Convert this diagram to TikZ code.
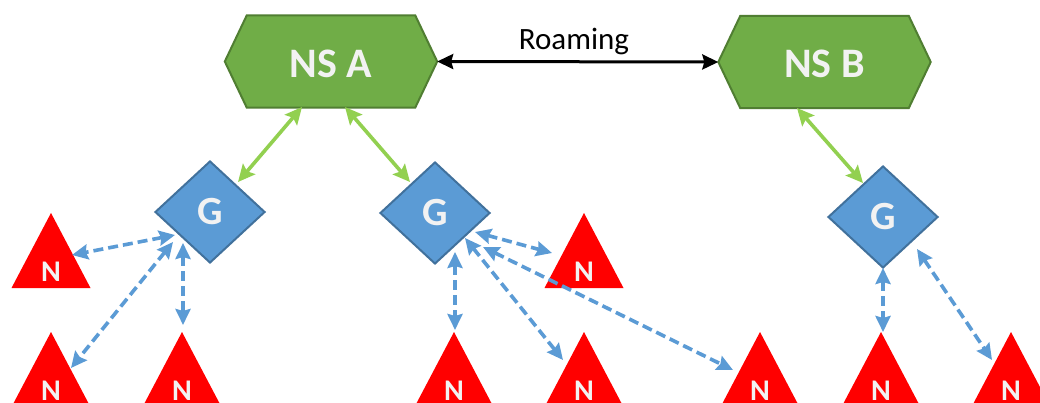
\documentclass[tikz,border=0pt]{standalone}
\usepackage{fontspec}
\setmainfont{Carlito}
\usetikzlibrary{shapes.geometric,arrows.meta,backgrounds}
\definecolor{nsgreen}{HTML}{70AD47}
\definecolor{nsborder}{HTML}{507E32}
\definecolor{gblue}{HTML}{5B9BD5}
\definecolor{gborder}{HTML}{41719C}
\definecolor{lgreen}{HTML}{92D050}
\definecolor{txt}{HTML}{F2F2F2}
\begin{document}
\begin{tikzpicture}[x=1pt,y=-1pt,
  nsbox/.style={rectangle,minimum width=212pt,minimum height=92pt,inner sep=0pt,text=txt,text height=32pt,font=\fontsize{42}{42}\selectfont\bfseries},
  hexa/.style={draw=nsborder,fill=nsgreen,line width=2pt,line join=miter},
  gbox/.style={diamond,draw=gborder,fill=gblue,line width=2pt,minimum width=110pt,minimum height=102pt,inner sep=0pt,text=txt,font=\fontsize{40}{40}\selectfont\bfseries},
  nlabel/.style={text=txt,font=\fontsize{30}{30}\selectfont\bfseries,inner sep=0pt},
  tri/.style={fill=red},
  glink/.style={draw=lgreen,line width=3.6pt,>={Stealth[length=17pt,width=16pt,inset=3pt]},<->},
  blink/.style={draw=gblue,line width=3.6pt,dash pattern=on 10pt off 5pt,>={Stealth[length=16pt,width=15pt,inset=2pt]},<->},
  rlink/.style={draw=black,line width=3pt,>={Stealth[length=16pt,width=15pt,inset=2pt]},<->}
]
\useasboundingbox (0,0) rectangle (1040,403);
\clip (0,0) rectangle (1040,403);

% network servers
\node[nsbox] (nsA) at (331,61.5) {NS A};
\node[nsbox] (nsB) at (824.5,62) {NS B};
\begin{scope}[on background layer]
  \fill[white] (0,0) rectangle (1040,403);
  \draw[hexa] (nsA.west) -- ([xshift=22pt]nsA.north west) -- ([xshift=-22pt]nsA.north east) -- (nsA.east) -- ([xshift=-22pt]nsA.south east) -- ([xshift=22pt]nsA.south west) -- cycle;
  \draw[hexa] (nsB.west) -- ([xshift=22pt]nsB.north west) -- ([xshift=-22pt]nsB.north east) -- (nsB.east) -- ([xshift=-22pt]nsB.south east) -- ([xshift=22pt]nsB.south west) -- cycle;
\end{scope}

% roaming
\draw[rlink] (nsA.east) -- (nsB.west);
\node[anchor=base,inner sep=0pt,font=\fontsize{31}{31}\selectfont] (roam) at (574,50) {Roaming};

% nodes N (triangles)
\foreach \x/\y/\n in {51/213/n1, 51/332/n2, 182/332/n3, 584/213/n4, 454/332/n5, 584/332/n6, 760/332/n7, 881/332/n8, 1011/332/n9}{
  \fill[tri] (\x,\y) -- (\x+39.5,\y+75) -- (\x-39.5,\y+75) -- cycle;
  \node[nlabel] (\n) at (\x,\y+59) {N};
}

% gateways
\node[gbox] (g1) at (210,212) {G};
\node[gbox] (g2) at (435,213) {G};
\node[gbox] (g3) at (883,217) {G};

% connector end points
\coordinate (a1) at (302,107);  \coordinate (a1e) at (238,182);
\coordinate (a2) at (345,107);  \coordinate (a2e) at (410,182);
\coordinate (a3) at (797,108);  \coordinate (a3e) at (863,183);

\coordinate (b1s) at (175,235); \coordinate (b1e) at (72,255);
\coordinate (b2s) at (173,242); \coordinate (b2e) at (71,368);
\coordinate (b3s) at (183,243); \coordinate (b3e) at (183,325);
\coordinate (b4s) at (475,232); \coordinate (b4e) at (552,253);
\coordinate (b5s) at (465,238); \coordinate (b5e) at (563,360);
\coordinate (b6s) at (483,247); \coordinate (b6e) at (733,370);
\coordinate (b7s) at (455,252); \coordinate (b7e) at (455,330);
\coordinate (b8s) at (883,268); \coordinate (b8e) at (883,332);
\coordinate (b9s) at (917,249); \coordinate (b9e) at (992,360);

\draw[glink] (a1) -- (a1e);
\draw[glink] (a2) -- (a2e);
\draw[glink] (a3) -- (a3e);

\draw[blink] (b1s) -- (b1e);
\draw[blink] (b2s) -- (b2e);
\draw[blink] (b3s) -- (b3e);
\draw[blink] (b4s) -- (b4e);
\draw[blink] (b5s) -- (b5e);
\draw[blink] (b6s) -- (b6e);
\draw[blink] (b7s) -- (b7e);
\draw[blink] (b8s) -- (b8e);
\draw[blink] (b9s) -- (b9e);
\end{tikzpicture}
\end{document}
